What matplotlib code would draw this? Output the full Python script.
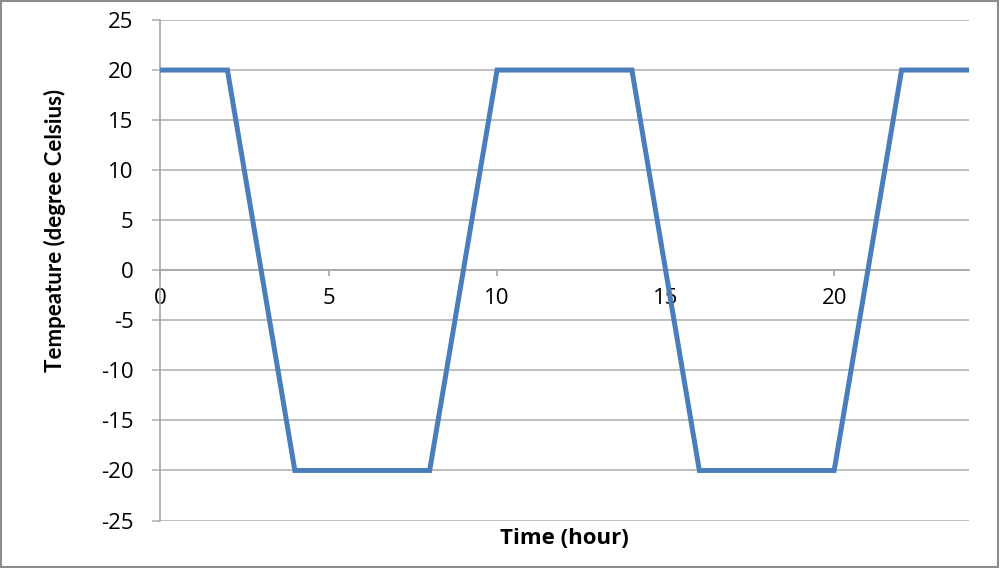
import matplotlib
matplotlib.use("Agg")
import matplotlib.pyplot as plt
from matplotlib.patches import Rectangle

# temperature profile (hour, degree Celsius)
hours = [0, 2, 4, 8, 10, 14, 16, 20, 22, 24]
temps = [20, 20, -20, -20, 20, 20, -20, -20, 20, 20]

x_ticks = [0, 5, 10, 15, 20]
y_ticks = [-25, -20, -15, -10, -5, 0, 5, 10, 15, 20, 25]

plt.rcParams['font.family'] = ['Open Sans', 'DejaVu Sans']

fig = plt.figure(figsize=(10, 5.68), dpi=100)
ax = fig.add_axes([0.16, 0.0836, 0.809, 0.8812])

ax.plot(hours, temps, color='#4A7EBB', linewidth=3.6, solid_joinstyle='miter', zorder=3)

ax.set_xlim(0, 24)
ax.set_ylim(-25, 25)

gray = '#A6A6A6'
ax.grid(axis='y', color='#B3B3B3', linewidth=1.2, zorder=1)
ax.set_axisbelow(True)

for s in ['top', 'right']:
    ax.spines[s].set_visible(False)
ax.spines['left'].set_color(gray)
ax.spines['left'].set_linewidth(1.2)
ax.spines['bottom'].set_position(('data', 0))
ax.spines['bottom'].set_color(gray)
ax.spines['bottom'].set_linewidth(1.2)

ax.set_yticks(y_ticks)
ax.set_xticks(x_ticks)
ax.set_yticklabels([str(v) for v in y_ticks])
ax.set_xticklabels([str(v) for v in x_ticks])

ax.tick_params(axis='y', length=6, color='#B3B3B3', width=1.2, pad=13, labelsize=16)
ax.tick_params(axis='x', length=4, color=gray, width=1.2, pad=9, labelsize=16)

ax.set_ylabel('Tempeature (degree Celsius)', fontsize=16, fontweight='bold', family=['Lato', 'DejaVu Sans'])
ax.yaxis.set_label_coords(-0.116, 0.58)
ax.set_xlabel('Time (hour)', fontsize=16, fontweight='bold')
ax.xaxis.set_label_coords(0.5, -0.015)

# outer chart frame
fig.patches.append(Rectangle((0.001, 0.002), 0.997, 0.996, transform=fig.transFigure,
                             fill=False, edgecolor='#8C8C8C', linewidth=1.5))

fig.savefig('out.png', dpi=100)
